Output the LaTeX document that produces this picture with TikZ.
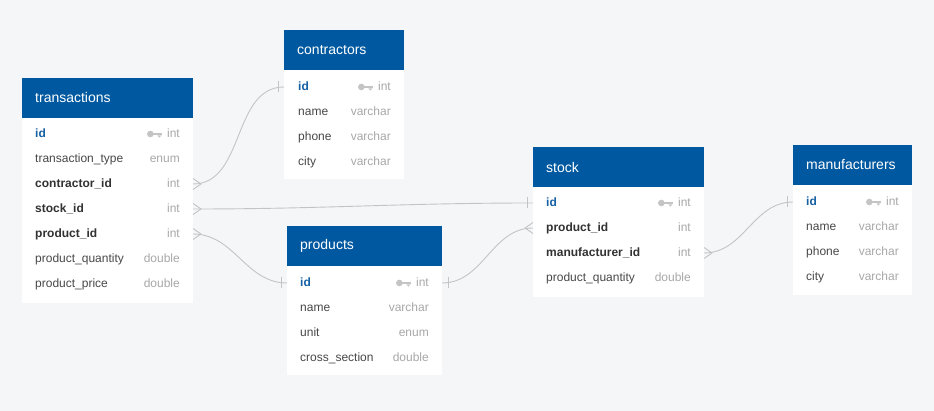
\documentclass[tikz,border=0pt]{standalone}
\usepackage{fontspec}
\setmainfont{Liberation Sans}
\usetikzlibrary{positioning}
\definecolor{headblue}{RGB}{0,89,160}
\definecolor{idblue}{RGB}{22,96,164}
\definecolor{canvas}{RGB}{245,246,247}
\definecolor{fieldgray}{RGB}{72,72,72}
\definecolor{fkgray}{RGB}{50,50,50}
\definecolor{typegray}{RGB}{168,168,168}
\definecolor{keygray}{RGB}{196,196,196}
\definecolor{linkgray}{RGB}{196,196,196}
\tikzset{
  tablehead/.style={fill=headblue,anchor=north west,minimum height=40,inner sep=0,outer sep=0},
  tabletitle/.style={anchor=west,inner sep=0,text=white,font=\fontsize{14}{16}\selectfont},
  tablebody/.style={fill=white,inner sep=0,outer sep=0},
  rowtext/.style={inner sep=0,text height=10.6pt,text depth=2.6pt,font=\fontsize{12}{14}\selectfont},
  colfield/.style={rowtext,anchor=west,text=fieldgray},
  fkfield/.style={rowtext,anchor=west,text=fkgray,font=\fontsize{12}{14}\selectfont\bfseries},
  pkfield/.style={rowtext,anchor=west,text=idblue,font=\fontsize{12}{14}\selectfont\bfseries},
  typefield/.style={rowtext,anchor=east,text=typegray},
  link/.style={draw=linkgray,line width=0.9pt},
  pics/pkey/.style={
    code={
      \fill[keygray] (-11.6,0) circle[radius=3.3];
      \fill[keygray] (-9,-1.3) rectangle (0,1.3);
      \fill[keygray] (-4.6,1.3) -- (-0.4,1.3) -- (-2.5,3.6) -- cycle;
    }
  },
  pics/crowfoot/.style={code={\draw[link] (0,-5.5) -- (8,0) -- (0,5.5);}},
  pics/onebar/.style={code={\draw[link] (-6,-5.5) -- (-6,5.5);}},
}
\begin{document}
\begin{tikzpicture}[x=1pt,y=-1pt]
\useasboundingbox (0,0) rectangle (934,411);
\fill[canvas] (0,0) rectangle (934,411);

% transactions
\node[tablehead,minimum width=171] (trans) at (22,78) {};
\node[tabletitle,right=13pt of trans.west] (trans-title) {transactions};
\node[tablebody,minimum width=171,minimum height=185,below right=0pt and 0pt of trans.south west] (trans-body) {};
\foreach \f/\t/\s [count=\i] in {id/int/pkfield,transaction\_type/enum/colfield,contractor\_id/int/fkfield,stock\_id/int/fkfield,product\_id/int/fkfield,product\_quantity/double/colfield,product\_price/double/colfield} {
  \node[\s] (trans-\i) at (35,{109+25*\i}) {\f};
  \node[typefield] (trans-\i-type) at (180,{109+25*\i}) {\t};
}
\pic at ([xshift=-5pt]trans-1-type.west) {pkey};

% contractors
\node[tablehead,minimum width=120] (contr) at (284,30) {};
\node[tabletitle,right=13pt of contr.west] (contr-title) {contractors};
\node[tablebody,minimum width=120,minimum height=109,below right=0pt and 0pt of contr.south west] (contr-body) {};
\foreach \f/\t/\s [count=\i] in {id/int/pkfield,name/varchar/colfield,phone/varchar/colfield,city/varchar/colfield} {
  \node[\s] (contr-\i) at (298,{62+25*\i}) {\f};
  \node[typefield] (contr-\i-type) at (391,{62+25*\i}) {\t};
}
\pic at ([xshift=-5pt]contr-1-type.west) {pkey};

% products
\node[tablehead,minimum width=155] (prod) at (287,226) {};
\node[tabletitle,right=13pt of prod.west] (prod-title) {products};
\node[tablebody,minimum width=155,minimum height=109,below right=0pt and 0pt of prod.south west] (prod-body) {};
\foreach \f/\t/\s [count=\i] in {id/int/pkfield,name/varchar/colfield,unit/enum/colfield,cross\_section/double/colfield} {
  \node[\s] (prod-\i) at (300,{258+25*\i}) {\f};
  \node[typefield] (prod-\i-type) at (429,{258+25*\i}) {\t};
}
\pic at ([xshift=-5pt]prod-1-type.west) {pkey};

% stock
\node[tablehead,minimum width=171] (stock) at (533,147) {};
\node[tabletitle,right=13pt of stock.west] (stock-title) {stock};
\node[tablebody,minimum width=171,minimum height=110,below right=0pt and 0pt of stock.south west] (stock-body) {};
\foreach \f/\t/\s [count=\i] in {id/int/pkfield,product\_id/int/fkfield,manufacturer\_id/int/fkfield,product\_quantity/double/colfield} {
  \node[\s] (stock-\i) at (546,{178+25*\i}) {\f};
  \node[typefield] (stock-\i-type) at (691,{178+25*\i}) {\t};
}
\pic at ([xshift=-5pt]stock-1-type.west) {pkey};

% manufacturers
\node[tablehead,minimum width=119] (manuf) at (793,145) {};
\node[tabletitle,right=13pt of manuf.west] (manuf-title) {manufacturers};
\node[tablebody,minimum width=119,minimum height=110,below right=0pt and 0pt of manuf.south west] (manuf-body) {};
\foreach \f/\t/\s [count=\i] in {id/int/pkfield,name/varchar/colfield,phone/varchar/colfield,city/varchar/colfield} {
  \node[\s] (manuf-\i) at (806,{177+25*\i}) {\f};
  \node[typefield] (manuf-\i-type) at (899,{177+25*\i}) {\t};
}
\pic at ([xshift=-5pt]manuf-1-type.west) {pkey};

% references
\draw[link] (trans-3 -| trans-body.east) to[out=0,in=180] (contr-1 -| contr-body.west);
\pic at (trans-3 -| trans-body.east) {crowfoot};
\pic at (contr-1 -| contr-body.west) {onebar};

\draw[link] (trans-4 -| trans-body.east) to[out=0,in=180] (stock-1 -| stock-body.west);
\pic at (trans-4 -| trans-body.east) {crowfoot};
\pic at (stock-1 -| stock-body.west) {onebar};

\draw[link] (trans-5 -| trans-body.east) to[out=0,in=180] (prod-1 -| prod-body.west);
\pic at (trans-5 -| trans-body.east) {crowfoot};
\pic at (prod-1 -| prod-body.west) {onebar};

\draw[link] (prod-1 -| prod-body.east) to[out=0,in=180] (stock-2 -| stock-body.west);
\pic[xscale=-1] at (prod-1 -| prod-body.east) {onebar};
\pic[xscale=-1] at (stock-2 -| stock-body.west) {crowfoot};

\draw[link] (stock-3 -| stock-body.east) to[out=0,in=180] (manuf-1 -| manuf-body.west);
\pic at (stock-3 -| stock-body.east) {crowfoot};
\pic at (manuf-1 -| manuf-body.west) {onebar};
\end{tikzpicture}
\end{document}
